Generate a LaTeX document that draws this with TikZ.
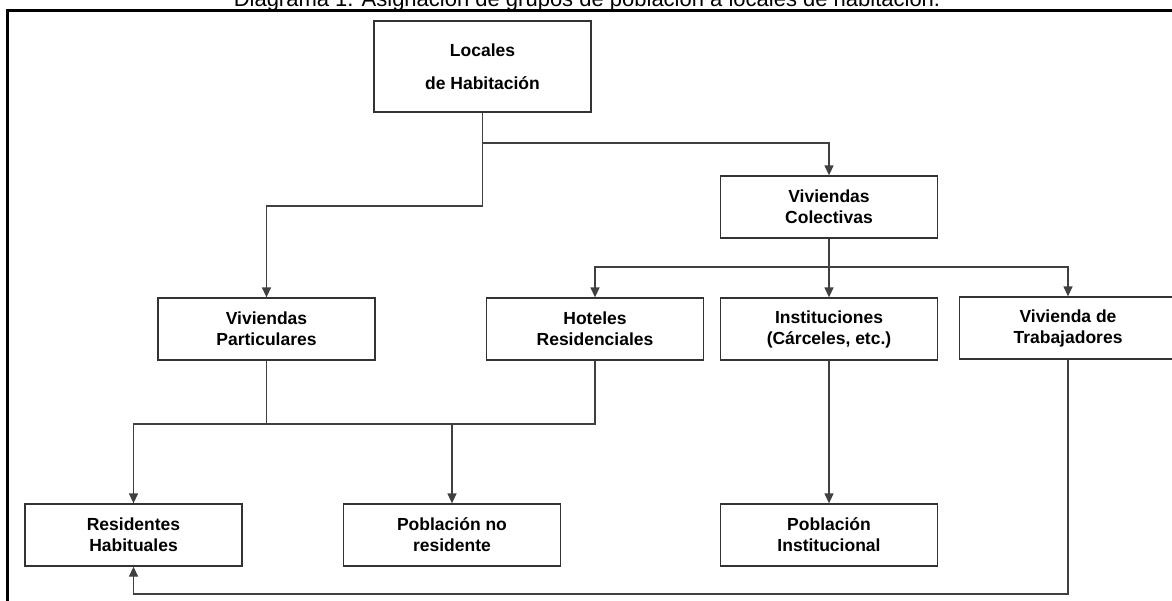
\documentclass[tikz,border=0pt]{standalone}
\usepackage{fontspec}
\setmainfont{Liberation Sans}
\usetikzlibrary{arrows.meta}
\begin{document}
\begin{tikzpicture}[x=1pt,y=-1pt,
  box/.style={draw=black!80, line width=1.3pt, fill=white, minimum width=217pt, minimum height=62pt,
    align=center, inner sep=0pt, font=\bfseries\fontsize{17.5}{21}\selectfont},
  conn/.style={draw=black!75, line width=1.3pt},
  arr/.style={conn, -{Triangle[length=10pt,width=9pt]}}]
\useasboundingbox (0,0) rectangle (1172,600);
\node[font=\fontsize{22}{26}\selectfont, anchor=base] (title) at (587,6) {Diagrama 1. Asignación de grupos de población a locales de habitación.};
\draw[line width=3pt] (7,700) -- (7,10) -- (1200,10);
% nodes
\node[box, minimum height=91pt, font=\bfseries\fontsize{17.5}{33}\selectfont] (loc) at (482.5,66.5) {Locales\\de Habitación};
\node[box] (vc) at (829,207) {Viviendas\\Colectivas};
\node[box] (vp) at (266.5,329) {Viviendas\\Particulares};
\node[box] (hot) at (595,329) {Hoteles\\Residenciales};
\node[box] (inst) at (829,329) {Instituciones\\(Cárceles, etc.)};
\node[box] (trab) at (1068,328) {Vivienda de\\Trabajadores};
\node[box] (res) at (133.5,535) {Residentes\\Habituales};
\node[box] (pnr) at (452,535) {Población no\\residente};
\node[box] (pinst) at (829,535) {Población\\Institucional};
% junction levels
\coordinate (j1) at (0,143);
\coordinate (j2) at (0,206);
\coordinate (j3) at (0,267);
\coordinate (j4) at (0,424);
\coordinate (j5) at (0,594);
% connectors
\draw[arr] (loc.south) -- (loc.south |- j1) -| (vc.north);
\draw[arr] (loc.south |- j1) -- (loc.south |- j2) -| (vp.north);
\draw[arr] (vc.south) -- (vc.south |- j3) -| (hot.north);
\draw[arr] (vc.south) -- (inst.north);
\draw[arr] (vc.south |- j3) -| (trab.north);
\draw[conn] (vp.south) -- (vp.south |- j4);
\draw[arr] (hot.south) -- (hot.south |- j4) -| (res.north);
\draw[arr] (pnr.north |- j4) -- (pnr.north);
\draw[arr] (inst.south) -- (pinst.north);
\draw[arr] (trab.south) -- (trab.south |- j5) -| (res.south);
\end{tikzpicture}
\end{document}
